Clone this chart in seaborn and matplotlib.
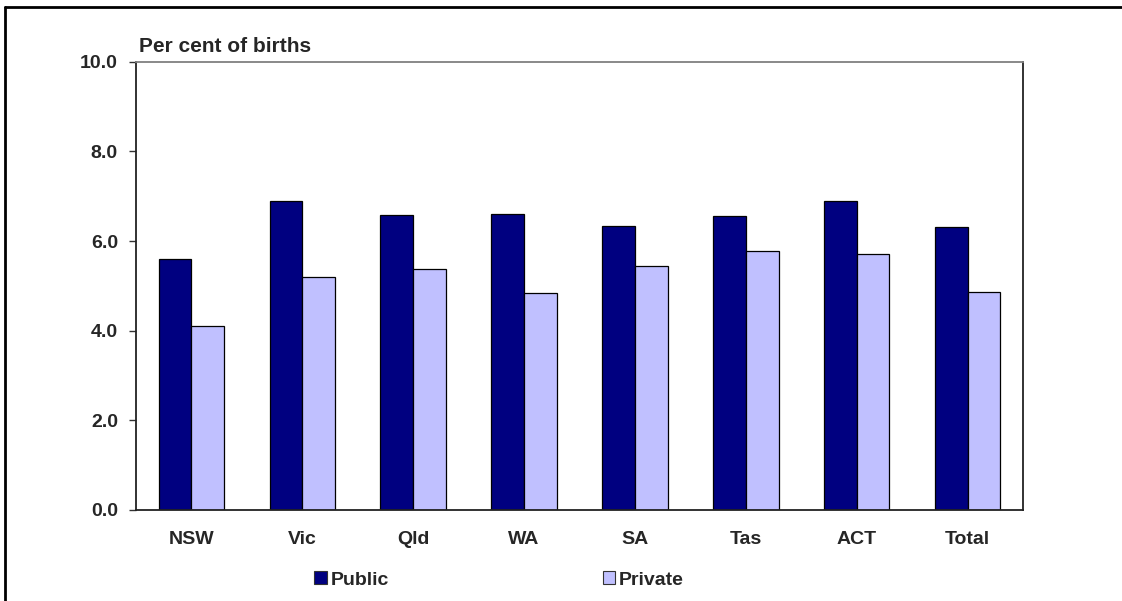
import numpy as np
import pandas as pd
import matplotlib
matplotlib.use('Agg')
import matplotlib.pyplot as plt
import seaborn as sns
from matplotlib.lines import Line2D

# Data
states = ['NSW', 'Vic', 'Qld', 'WA', 'SA', 'Tas', 'ACT', 'Total']
public = [5.60, 6.90, 6.59, 6.61, 6.33, 6.56, 6.89, 6.31]
private = [4.10, 5.20, 5.38, 4.83, 5.44, 5.78, 5.72, 4.87]
sectors = ['Public', 'Private']
colors = ['#000080', '#C0C0FF']
y_ticks = [0.0, 2.0, 4.0, 6.0, 8.0, 10.0]

df = pd.DataFrame({
    'state': states * 2,
    'sector': ['Public'] * len(states) + ['Private'] * len(states),
    'value': public + private,
})

sns.set_style('white')
plt.rcParams['font.family'] = ['Liberation Sans', 'DejaVu Sans']
plt.rcParams['font.weight'] = 'bold'
fs = 14

fig = plt.figure(figsize=(11.22, 6.01), dpi=100)
ax = fig.add_axes([136 / 1122, 1 - 510 / 601, (1023 - 136) / 1122, (510 - 61.7) / 601])

sns.barplot(data=df, x='state', y='value', hue='sector', order=states,
            hue_order=sectors, palette=colors, width=0.59,
            edgecolor='black', linewidth=0.9, saturation=1, ax=ax)

ax.set_ylim(0, 10)
ax.set_yticks(y_ticks)
ax.set_yticklabels([f'{t:.1f}' for t in y_ticks], fontsize=fs, fontweight='bold')
ax.set_xticks(range(len(states)))
ax.set_xticklabels(states, fontsize=fs, fontweight='bold')
ax.set_xlabel('')
ax.set_ylabel('')
ax.tick_params(axis='x', length=0, pad=15)
ax.tick_params(axis='y', length=5, width=1, pad=8, color='#333333', left=True)

for side in ['left', 'right', 'bottom']:
    ax.spines[side].set_color('#222222')
    ax.spines[side].set_linewidth(1.3)
ax.spines['top'].set_color('#808080')
ax.spines['top'].set_linewidth(1.3)

ax.text(0.003, 1.012, 'Per cent of births', transform=ax.transAxes,
        fontsize=15, fontweight='bold', va='bottom', ha='left')

ax.get_legend().remove()
handles = [plt.Rectangle((0, 0), 1, 1, facecolor=c, edgecolor='#333333', linewidth=0.8)
           for c in colors]
fig.legend(handles, sectors, loc='center', bbox_to_anchor=(499 / 1122, 1 - 580 / 601),
           ncol=2, frameon=False, handlelength=0.62, handleheight=0.62,
           handletextpad=0.2, columnspacing=11,
           prop={'size': fs, 'weight': 'bold'})

# outer chart frame (top and left edges visible)
fig.add_artist(Line2D([5 / 1122, 5 / 1122], [0, 1 - 7 / 601], color='black', linewidth=2,
                      transform=fig.transFigure))
fig.add_artist(Line2D([5 / 1122, 1], [1 - 7 / 601, 1 - 7 / 601], color='black', linewidth=2,
                      transform=fig.transFigure))

fig.savefig('out.png', dpi=100)
